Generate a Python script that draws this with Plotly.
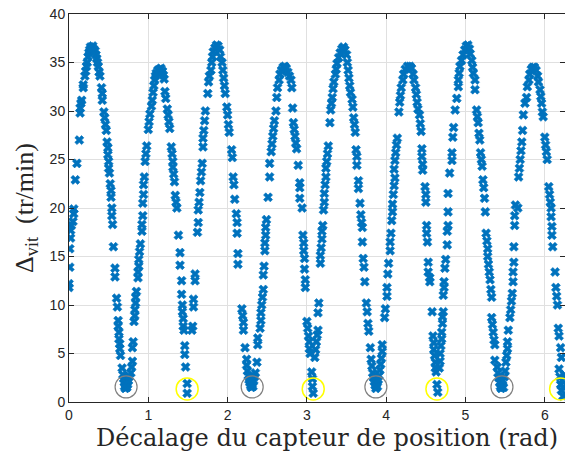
import plotly.graph_objects as go

# Measured points (x: rad, y: tr/min), one list per lobe of the curve
lobe1 = [(0.00,11.8),(0.00,12.2),(0.01,13.9),(0.01,15.8),(0.02,16.9),(0.02,17.7),(0.03,18.2),(0.05,18.6),(0.06,19.4),(0.06,19.9),(0.08,22.9),(0.10,24.6),(0.13,27.0),(0.14,29.8),(0.14,30.3),(0.15,30.8),(0.16,31.1),(0.18,32.4),(0.18,32.7),(0.20,33.6),(0.21,34.1),(0.22,34.6),(0.23,35.0),(0.24,35.6),(0.25,36.0),(0.26,36.3),(0.27,36.6),(0.29,36.5),(0.30,36.7),(0.31,36.4),(0.33,36.2),(0.34,35.8),(0.35,35.4),(0.36,35.0),(0.37,34.6),(0.38,34.0),(0.39,33.6),(0.41,32.4),(0.42,31.8),(0.42,31.1),(0.44,29.9),(0.45,29.3),(0.46,28.6),(0.47,28.0),(0.48,26.8),(0.49,26.2),(0.49,25.5),(0.50,24.8),(0.50,24.1),(0.51,23.6),(0.52,22.5),(0.53,21.8),(0.53,21.1),(0.54,20.0),(0.54,19.2),(0.55,18.3),(0.56,16.0),(0.58,13.8),(0.58,12.9),(0.60,10.7),(0.61,9.8),(0.62,8.4),(0.62,7.8),(0.63,7.2),(0.63,6.5),(0.64,6.0),(0.64,5.5),(0.65,4.8),(0.67,3.5),(0.68,2.8),(0.69,2.4),(0.70,2.0),(0.70,1.6),(0.71,1.4),(0.72,1.7),(0.72,2.1),(0.73,1.5),(0.74,1.8),(0.75,2.2),(0.76,2.6)]
lobe2 = [(0.78,3.0),(0.79,3.6),(0.80,4.2),(0.80,5.6),(0.81,6.2),(0.82,8.3),(0.83,8.9),(0.83,9.5),(0.84,10.2),(0.84,10.8),(0.85,11.4),(0.87,12.8),(0.87,13.4),(0.88,14.0),(0.88,14.7),(0.89,15.5),(0.90,16.3),(0.92,17.6),(0.92,18.3),(0.93,19.2),(0.93,20.5),(0.94,21.4),(0.94,22.4),(0.95,23.2),(0.96,24.8),(0.97,25.6),(0.98,26.4),(1.00,28.1),(1.01,28.9),(1.02,29.7),(1.04,30.5),(1.05,31.1),(1.06,31.9),(1.07,32.6),(1.08,33.2),(1.09,33.6),(1.10,33.9),(1.12,34.2),(1.14,34.3),(1.16,34.4),(1.18,34.1),(1.19,33.7),(1.20,33.3),(1.21,32.0),(1.22,31.3),(1.24,30.2),(1.25,29.6),(1.26,28.9),(1.27,28.2),(1.29,26.3),(1.30,25.6),(1.31,24.8),(1.31,24.2),(1.32,23.5),(1.33,22.7),(1.34,21.3),(1.35,20.6),(1.36,20.0),(1.38,17.2),(1.40,15.4),(1.40,14.1),(1.42,12.5),(1.42,11.1),(1.43,10.0),(1.43,9.3),(1.44,8.6),(1.44,7.8),(1.45,7.4),(1.46,5.8),(1.46,4.9),(1.47,3.6),(1.49,1.9),(1.49,0.9)]
lobe3 = [(1.55,7.4),(1.56,7.8),(1.57,9.8),(1.57,10.6),(1.59,12.5),(1.59,13.2),(1.62,17.5),(1.63,18.5),(1.63,19.8),(1.64,20.6),(1.65,21.6),(1.66,22.8),(1.67,23.7),(1.68,24.6),(1.69,26.3),(1.69,27.2),(1.70,28.0),(1.71,29.0),(1.72,30.0),(1.75,31.8),(1.76,33.0),(1.77,33.6),(1.79,34.2),(1.80,35.0),(1.81,35.6),(1.82,36.1),(1.84,36.5),(1.86,36.8),(1.88,36.7),(1.90,36.3),(1.91,35.6),(1.93,35.0),(1.94,34.2),(1.95,33.4),(1.96,32.6),(1.97,31.8),(1.99,30.4),(2.00,29.6),(2.01,28.6),(2.02,27.8),(2.05,26.0),(2.06,25.2),(2.07,23.2),(2.08,22.4),(2.09,20.9),(2.11,19.4),(2.12,18.5),(2.12,17.4),(2.13,15.3),(2.13,14.2),(2.18,9.6),(2.19,8.9),(2.20,8.2),(2.20,7.4),(2.22,5.6),(2.24,4.4),(2.24,3.8),(2.25,3.2),(2.26,2.7),(2.27,2.3),(2.28,2.0),(2.29,1.7),(2.30,1.5),(2.31,1.8),(2.32,1.6),(2.33,2.2),(2.34,2.6),(2.35,3.0)]
lobe4 = [(2.37,4.1),(2.38,5.9),(2.38,6.6),(2.41,7.6),(2.42,8.4),(2.42,9.2),(2.43,10.0),(2.44,10.8),(2.45,11.6),(2.45,13.1),(2.46,14.0),(2.47,15.6),(2.47,16.4),(2.48,17.2),(2.48,18.0),(2.49,18.8),(2.51,21.1),(2.53,23.2),(2.53,24.6),(2.55,25.8),(2.56,26.6),(2.57,27.4),(2.58,28.2),(2.59,29.0),(2.61,30.0),(2.62,31.4),(2.63,32.4),(2.65,33.2),(2.66,33.8),(2.68,34.2),(2.70,34.5),(2.72,34.6),(2.74,34.4),(2.76,34.0),(2.78,33.6),(2.80,33.2),(2.81,32.4),(2.82,30.3),(2.83,28.8),(2.84,28.1),(2.85,27.4),(2.86,26.7),(2.87,26.1),(2.89,24.4),(2.91,22.6),(2.91,22.1),(2.91,21.0),(2.94,20.0),(2.95,17.2),(2.96,16.4),(2.96,15.6),(2.97,14.8),(2.97,13.7),(2.98,12.6),(2.98,11.8),(3.00,8.3),(3.01,7.6),(3.02,6.8),(3.03,6.2),(3.03,5.5),(3.04,5.0),(3.06,3.1),(3.07,2.4),(3.07,1.6),(3.08,0.9)]
lobe5 = [(3.10,4.6),(3.11,5.4),(3.12,6.2),(3.13,6.9),(3.14,7.4),(3.14,9.2),(3.15,10.2),(3.17,14.3),(3.17,15.1),(3.18,15.9),(3.19,16.8),(3.19,17.6),(3.20,18.2),(3.21,19.8),(3.22,20.6),(3.22,21.5),(3.23,22.4),(3.24,23.2),(3.24,24.1),(3.25,24.8),(3.26,25.6),(3.27,26.4),(3.29,28.8),(3.30,30.1),(3.31,30.8),(3.32,31.4),(3.33,32.3),(3.34,33.0),(3.36,33.8),(3.37,34.3),(3.38,34.9),(3.40,35.5),(3.42,36.0),(3.44,36.4),(3.46,36.6),(3.48,36.3),(3.50,35.8),(3.51,35.0),(3.52,34.2),(3.53,33.4),(3.54,32.6),(3.55,31.9),(3.57,31.2),(3.58,30.4),(3.59,29.3),(3.60,28.6),(3.61,27.8),(3.62,26.0),(3.63,25.3),(3.63,24.4),(3.65,22.8),(3.65,22.0),(3.67,20.5),(3.68,19.3),(3.69,18.5),(3.70,18.0),(3.70,16.5),(3.71,14.8),(3.72,13.9),(3.73,12.4),(3.75,10.2),(3.76,9.3),(3.77,8.1),(3.78,7.3),(3.80,5.6),(3.81,4.4),(3.82,3.7),(3.83,3.0),(3.84,2.5),(3.85,2.1),(3.86,1.7),(3.87,1.4),(3.88,1.9),(3.89,1.6),(3.90,2.3),(3.91,2.7),(3.92,3.3),(3.93,3.9),(3.94,4.5)]
lobe6 = [(3.95,5.2),(3.95,5.9),(3.98,8.7),(3.99,9.6),(4.01,10.9),(4.01,11.8),(4.02,13.2),(4.03,14.3),(4.05,15.6),(4.05,16.5),(4.06,17.4),(4.07,18.7),(4.08,19.6),(4.08,20.4),(4.09,21.4),(4.10,22.3),(4.11,23.1),(4.10,24.0),(4.11,24.9),(4.12,25.7),(4.13,26.5),(4.14,27.2),(4.16,29.9),(4.17,30.9),(4.18,31.6),(4.19,32.4),(4.21,33.2),(4.22,33.8),(4.24,34.3),(4.27,34.6),(4.30,34.6),(4.32,34.4),(4.34,33.8),(4.35,33.2),(4.37,32.4),(4.38,31.7),(4.39,30.9),(4.40,30.2),(4.42,29.6),(4.43,28.7),(4.44,27.9),(4.45,26.1),(4.45,25.3),(4.46,24.5),(4.46,23.9),(4.49,22.2),(4.50,21.4),(4.50,20.6),(4.51,18.2),(4.51,17.4),(4.52,16.5),(4.53,14.4),(4.53,13.4),(4.55,12.8),(4.55,12.4),(4.58,9.3),(4.59,6.8),(4.60,6.1),(4.60,5.4),(4.61,4.8),(4.62,4.1),(4.62,3.5),(4.63,3.1),(4.64,1.8),(4.65,1.0)]
lobe7 = [(4.67,3.5),(4.68,4.2),(4.68,5.0),(4.69,5.8),(4.70,6.5),(4.70,7.2),(4.71,8.1),(4.71,8.8),(4.72,9.3),(4.72,11.0),(4.73,11.8),(4.73,12.4),(4.74,13.8),(4.75,14.7),(4.77,16.2),(4.77,17.6),(4.78,18.2),(4.78,19.6),(4.78,21.5),(4.80,23.6),(4.83,24.9),(4.83,25.7),(4.84,27.3),(4.85,28.3),(4.87,30.1),(4.89,31.3),(4.91,32.5),(4.91,33.2),(4.92,33.9),(4.93,34.6),(4.95,35.2),(4.97,35.8),(4.99,36.3),(5.01,36.7),(5.03,36.8),(5.05,36.4),(5.06,35.9),(5.08,35.2),(5.09,34.5),(5.10,33.9),(5.12,33.2),(5.12,32.2),(5.14,30.1),(5.15,29.4),(5.16,28.8),(5.17,27.7),(5.18,27.0),(5.19,25.7),(5.20,25.0),(5.21,24.3),(5.22,22.9),(5.23,22.1),(5.24,21.0),(5.25,19.6),(5.26,17.4),(5.27,16.6),(5.28,15.8),(5.28,15.0),(5.29,14.2),(5.30,13.4),(5.31,12.6),(5.32,11.6),(5.33,10.8),(5.33,8.7),(5.34,8.0),(5.35,7.2),(5.36,6.4),(5.37,5.9),(5.37,4.3),(5.40,3.6),(5.41,3.0),(5.42,2.5),(5.43,2.0),(5.44,1.6),(5.45,1.4),(5.46,1.8),(5.47,2.2),(5.48,1.5),(5.49,2.6),(5.50,3.2)]
lobe8 = [(5.51,4.1),(5.52,4.8),(5.53,5.5),(5.53,6.2),(5.54,7.4),(5.56,8.7),(5.57,9.5),(5.58,10.4),(5.59,11.2),(5.60,12.4),(5.60,13.4),(5.61,14.4),(5.61,16.0),(5.62,18.2),(5.62,19.2),(5.63,20.3),(5.66,20.0),(5.67,23.2),(5.68,24.1),(5.69,25.0),(5.70,25.9),(5.71,26.8),(5.72,28.0),(5.73,29.6),(5.75,30.8),(5.77,31.4),(5.78,32.5),(5.80,33.2),(5.81,33.8),(5.83,34.3),(5.85,34.5),(5.87,34.5),(5.89,34.2),(5.91,33.6),(5.92,33.0),(5.94,32.2),(5.95,31.5),(5.96,30.8),(5.97,29.9),(5.98,29.4),(6.00,27.3),(6.01,26.5),(6.02,25.8),(6.03,25.0),(6.05,22.2),(6.06,21.4),(6.07,20.6),(6.08,20.0),(6.08,19.1),(6.09,18.1),(6.09,17.2),(6.10,16.0),(6.13,13.4),(6.14,11.8),(6.15,10.9),(6.16,10.0),(6.17,7.6),(6.18,6.8),(6.20,5.6),(6.21,4.6),(6.18,3.4),(6.19,2.6),(6.20,1.8),(6.21,1.2),(6.22,2.2),(6.23,0.6),(6.24,1.5),(6.25,2.8)]

# Highlighted minima
gray_min_x = [0.72, 2.31, 3.87, 5.46]
gray_min_y = [1.55, 1.55, 1.55, 1.55]
yellow_min_x = [1.49, 3.08, 4.64, 6.20]
yellow_min_y = [1.35, 1.35, 1.35, 1.35]

x_ticks = [0, 1, 2, 3, 4, 5, 6]
y_ticks = [0, 5, 10, 15, 20, 25, 30, 35, 40]

pts = lobe1 + lobe2 + lobe3 + lobe4 + lobe5 + lobe6 + lobe7 + lobe8
xs = [p[0] for p in pts]
ys = [p[1] for p in pts]

fig = go.Figure()
fig.add_trace(go.Scatter(x=xs, y=ys, mode="markers",
                         marker=dict(symbol="x", size=8, color="#0072BD",
                                     line=dict(width=0.6, color="#0072BD"))))
fig.add_trace(go.Scatter(x=gray_min_x, y=gray_min_y, mode="markers",
                         marker=dict(symbol="circle-open", size=22, color="#808080",
                                     line=dict(width=1.2))))
fig.add_trace(go.Scatter(x=yellow_min_x, y=yellow_min_y, mode="markers",
                         marker=dict(symbol="circle-open", size=22, color="#FFFF00",
                                     line=dict(width=1.5))))

axis_common = dict(showline=True, linecolor="#262626", linewidth=1, ticks="inside",
                   ticklen=5, tickcolor="#262626", mirror="ticks", showgrid=True,
                   gridcolor="#e0e0e0", gridwidth=1, zeroline=False,
                   tickfont=dict(family="Liberation Sans, Arial", size=14, color="#262626"))

fig.update_layout(
    width=565, height=457,
    margin=dict(l=69, r=0, t=14, b=55),
    paper_bgcolor="white", plot_bgcolor="white",
    showlegend=False,
    xaxis=dict(range=[0, 6.255], tickvals=x_ticks, ticktext=[str(v) for v in x_ticks],
               **axis_common),
    yaxis=dict(range=[0, 40], tickvals=y_ticks, ticktext=[str(v) for v in y_ticks],
               title=dict(text="Δ<sub>vit</sub>  (tr/min)",
                          font=dict(family="Liberation Serif, DejaVu Serif", size=26, color="#262626"),
                          standoff=8),
               **axis_common),
    annotations=[dict(text="Décalage du capteur de position (rad)",
                      xref="paper", yref="paper", x=0.52, y=-0.093,
                      xanchor="center", yanchor="middle", showarrow=False,
                      font=dict(family="DejaVu Serif", size=24, color="#262626"))],
)

# remove the page's default body margin so the figure sits at the window's corner
fig.write_html("out.html", config={"displayModeBar": False},
               post_script="document.body.style.margin='0';")
